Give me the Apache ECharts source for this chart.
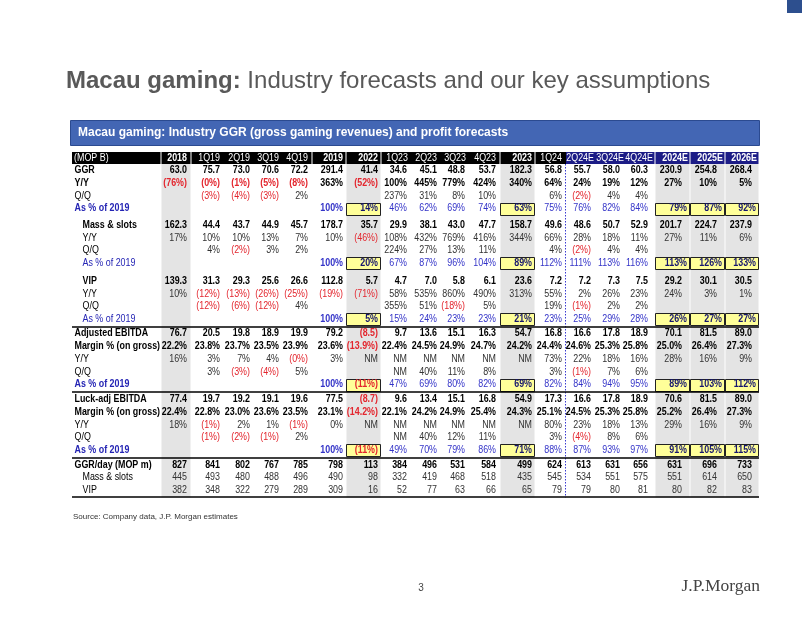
<!DOCTYPE html>
<html>
<head>
<meta charset="utf-8">
<script src="https://cdn.jsdelivr.net/npm/echarts@6/dist/echarts.min.js"></script>
<style>
html,body{margin:0;padding:0;background:#ffffff;}
#chart{width:802px;height:620px;}
</style>
</head>
<body>
<div id="chart"></div>
<script>
// ---------------- data ----------------
const pageTitleBold = "Macau gaming:";
const pageTitleRest = " Industry forecasts and our key assumptions";
const tableTitle = "Macau gaming: Industry GGR (gross gaming revenues) and profit forecasts";
const unitLabel = "(MOP B)";
const sourceNote = "Source: Company data, J.P. Morgan estimates";
const pageNumber = "3";
const brand = "J.P.Morgan";

const columns = ["2018","1Q19","2Q19","3Q19","4Q19","2019","2022","1Q23","2Q23","3Q23","4Q23","2023","1Q24","2Q24E","3Q24E","4Q24E","2024E","2025E","2026E"];
const annualColumns = ["2018","2019","2022","2023","2024E","2025E","2026E"];
const shadedColumns = ["2018","2022","2023","2024E","2025E","2026E"];
const boxedColumns = ["2022","2023","2024E","2025E","2026E"];
const forecastColumns = ["2Q24E","3Q24E","4Q24E","2024E","2025E","2026E"];

const ggr        = ["63.0","75.7","73.0","70.6","72.2","291.4","41.4","34.6","45.1","48.8","53.7","182.3","56.8","55.7","58.0","60.3","230.9","254.8","268.4"];
const ggrYoY     = ["(76%)","(0%)","(1%)","(5%)","(8%)","363%","(52%)","100%","445%","779%","424%","340%","64%","24%","19%","12%","27%","10%","5%"];
const ggrQoQ     = ["","(3%)","(4%)","(3%)","2%","","","237%","31%","8%","10%","","6%","(2%)","4%","4%","","",""];
const ggrVs2019  = ["","","","","","100%","14%","46%","62%","69%","74%","63%","75%","76%","82%","84%","79%","87%","92%"];

const mass       = ["162.3","44.4","43.7","44.9","45.7","178.7","35.7","29.9","38.1","43.0","47.7","158.7","49.6","48.6","50.7","52.9","201.7","224.7","237.9"];
const massYoY    = ["17%","10%","10%","13%","7%","10%","(46%)","108%","432%","769%","416%","344%","66%","28%","18%","11%","27%","11%","6%"];
const massQoQ    = ["","4%","(2%)","3%","2%","","","224%","27%","13%","11%","","4%","(2%)","4%","4%","","",""];
const massVs2019 = ["","","","","","100%","20%","67%","87%","96%","104%","89%","112%","111%","113%","116%","113%","126%","133%"];

const vip        = ["139.3","31.3","29.3","25.6","26.6","112.8","5.7","4.7","7.0","5.8","6.1","23.6","7.2","7.2","7.3","7.5","29.2","30.1","30.5"];
const vipYoY     = ["10%","(12%)","(13%)","(26%)","(25%)","(19%)","(71%)","58%","535%","860%","490%","313%","55%","2%","26%","23%","24%","3%","1%"];
const vipQoQ     = ["","(12%)","(6%)","(12%)","4%","","","355%","51%","(18%)","5%","","19%","(1%)","2%","2%","","",""];
const vipVs2019  = ["","","","","","100%","5%","15%","24%","23%","23%","21%","23%","25%","29%","28%","26%","27%","27%"];

const ebitda       = ["76.7","20.5","19.8","18.9","19.9","79.2","(8.5)","9.7","13.6","15.1","16.3","54.7","16.8","16.6","17.8","18.9","70.1","81.5","89.0"];
const ebitdaMargin = ["22.2%","23.8%","23.7%","23.5%","23.9%","23.6%","(13.9%)","22.4%","24.5%","24.9%","24.7%","24.2%","24.4%","24.6%","25.3%","25.8%","25.0%","26.4%","27.3%"];
const ebitdaYoY    = ["16%","3%","7%","4%","(0%)","3%","NM","NM","NM","NM","NM","NM","73%","22%","18%","16%","28%","16%","9%"];
const ebitdaQoQ    = ["","3%","(3%)","(4%)","5%","","","NM","40%","11%","8%","","3%","(1%)","7%","6%","","",""];
const ebitdaVs2019 = ["","","","","","100%","(11%)","47%","69%","80%","82%","69%","82%","84%","94%","95%","89%","103%","112%"];

const luck       = ["77.4","19.7","19.2","19.1","19.6","77.5","(8.7)","9.6","13.4","15.1","16.8","54.9","17.3","16.6","17.8","18.9","70.6","81.5","89.0"];
const luckMargin = ["22.4%","22.8%","23.0%","23.6%","23.5%","23.1%","(14.2%)","22.1%","24.2%","24.9%","25.4%","24.3%","25.1%","24.5%","25.3%","25.8%","25.2%","26.4%","27.3%"];
const luckYoY    = ["18%","(1%)","2%","1%","(1%)","0%","NM","NM","NM","NM","NM","NM","80%","23%","18%","13%","29%","16%","9%"];
const luckQoQ    = ["","(1%)","(2%)","(1%)","2%","","","NM","40%","12%","11%","","3%","(4%)","8%","6%","","",""];
const luckVs2019 = ["","","","","","100%","(11%)","49%","70%","79%","86%","71%","88%","87%","93%","97%","91%","105%","115%"];

const ggrDay     = ["827","841","802","767","785","798","113","384","496","531","584","499","624","613","631","656","631","696","733"];
const ggrDayMass = ["445","493","480","488","496","490","98","332","419","468","518","435","545","534","551","575","551","614","650"];
const ggrDayVip  = ["382","348","322","279","289","309","16","52","77","63","66","65","79","79","80","81","80","82","83"];

// rows: label text + which array + row style
const rows = [
  {label:"GGR", vals:ggr, kind:"bold"},
  {label:"Y/Y", vals:ggrYoY, kind:"bold"},
  {label:"Q/Q", vals:ggrQoQ, kind:"normal"},
  {label:"As % of 2019", vals:ggrVs2019, kind:"pct", labelBold:true},
  {label:"Mass & slots", vals:mass, kind:"bold", indent:true},
  {label:"Y/Y", vals:massYoY, kind:"normal", indent:true},
  {label:"Q/Q", vals:massQoQ, kind:"normal", indent:true},
  {label:"As % of 2019", vals:massVs2019, kind:"pct", indent:true},
  {label:"VIP", vals:vip, kind:"bold", indent:true},
  {label:"Y/Y", vals:vipYoY, kind:"normal", indent:true},
  {label:"Q/Q", vals:vipQoQ, kind:"normal", indent:true},
  {label:"As % of 2019", vals:vipVs2019, kind:"pct", indent:true},
  {label:"Adjusted EBITDA", vals:ebitda, kind:"bold"},
  {label:"Margin % (on gross)", vals:ebitdaMargin, kind:"bold"},
  {label:"Y/Y", vals:ebitdaYoY, kind:"normal"},
  {label:"Q/Q", vals:ebitdaQoQ, kind:"normal"},
  {label:"As % of 2019", vals:ebitdaVs2019, kind:"pct", labelBold:true},
  {label:"Luck-adj EBITDA", vals:luck, kind:"bold"},
  {label:"Margin % (on gross)", vals:luckMargin, kind:"bold"},
  {label:"Y/Y", vals:luckYoY, kind:"normal"},
  {label:"Q/Q", vals:luckQoQ, kind:"normal"},
  {label:"As % of 2019", vals:luckVs2019, kind:"pct", labelBold:true},
  {label:"GGR/day (MOP m)", vals:ggrDay, kind:"bold"},
  {label:"Mass & slots", vals:ggrDayMass, kind:"normal", indent:true},
  {label:"VIP", vals:ggrDayVip, kind:"normal", indent:true}
];

// ---------------- layout / style ----------------
const FONT = "'Liberation Sans', Arial, sans-serif";
const FS = 10, SX = 0.89;
const LABEL_W = 89;
const COL_W   = [30,33,30,29,29,34,35,31,29,29,30,35,31,30,30,29,35,35,34];
const COL_PAD = [4,4,4,4,4,3,3,5,4,5,4,3,4,5,6,7,8,8,7];
const HEAD_TOP = 6, HEAD_BOT = 18;
const ROW_Y0 = 24.3, ROW_STEP = 12.75;
const GAP_BEFORE = {4:3.8, 8:5, 12:1.6, 17:1.9, 22:1.8};
const RULE_BEFORE = [12, 17, 22];
const C = {
  black:'#000000', normal:'#333333', red:'#e3262e', blue:'#3434c8', blueLabel:'#2424b4',
  boxText:'#16166e', boxFill:'#ffff99', grey:'#e4e4e4', headBlack:'#000000', headNavy:'#1c1c86',
  bar:'#4366b4', pageTitle:'#595959'
};

const colLeft = [];
let acc = LABEL_W;
COL_W.forEach(w => { colLeft.push(acc); acc += w; });
const TABLE_W = acc;
const rowY = [];
let yy = ROW_Y0;
rows.forEach((row, r) => { if (r > 0) yy += ROW_STEP; if (GAP_BEFORE[r]) yy += GAP_BEFORE[r]; rowY.push(yy); });
const TABLE_BOT = rowY[rowY.length - 1] + 7;
const GRID_TOP = 146, GRID_H = 360;

function txt(pt, text, o) {
  const align = o.align || 'right';
  return {
    type:'text', x: pt[0], y: pt[1], scaleX: o.sx == null ? SX : o.sx, silent:true,
    style:{
      text: text, x:0, y:0, fill:o.color,
      fontSize:o.size || FS, fontWeight:o.bold ? 'bold' : 'normal', fontFamily:o.family || FONT,
      align: align, verticalAlign:'middle', textAlign: align, textVerticalAlign:'middle'
    }
  };
}

// ---------------- series ----------------
const columnSeries = {
  type:'custom', z:1, silent:true,
  data: columns.map((c, i) => [i, 0]),
  renderItem: function (params, api) {
    const c = api.value(0);
    const name = columns[c];
    const l = colLeft[c], r = colLeft[c] + COL_W[c];
    const children = [];
    if (shadedColumns.indexOf(name) >= 0) {
      const a = api.coord([l, HEAD_BOT]), b = api.coord([r, TABLE_BOT]);
      children.push({type:'rect', shape:{x:a[0] + 0.5, y:a[1], width:b[0] - a[0] - 1, height:b[1] - a[1]}, style:{fill:C.grey}});
    }
    const isAnnual = annualColumns.indexOf(name) >= 0;
    const leftGap = isAnnual || c === 0 || annualColumns.indexOf(columns[c - 1]) >= 0;
    const rightGap = isAnnual || annualColumns.indexOf(columns[c + 1]) >= 0;
    const h0 = api.coord([l, HEAD_TOP]), h1 = api.coord([r, HEAD_BOT]);
    const x0 = h0[0] + (leftGap ? 0.5 : 0), x1 = h1[0] - (rightGap ? 0.5 : 0);
    const isF = forecastColumns.indexOf(name) >= 0;
    children.push({type:'rect', shape:{x:x0, y:h0[1], width:x1 - x0, height:h1[1] - h0[1]}, style:{fill: isF ? C.headNavy : C.headBlack}});
    const tp = api.coord([r - (isF ? 2 : Math.min(COL_PAD[c], 4)), (HEAD_TOP + HEAD_BOT) / 2]);
    children.push(txt(tp, name, {color:'#ffffff', bold:isAnnual}));
    return {type:'group', children: children};
  }
};

const labelSeries = {
  type:'custom', z:3, silent:true,
  data: [[0, -1]].concat(rows.map((row, i) => [0, i])),
  renderItem: function (params, api) {
    const r = api.value(1);
    if (r < 0) {
      const h0 = api.coord([0, HEAD_TOP]), h1 = api.coord([LABEL_W, HEAD_BOT]);
      return {type:'group', children:[
        {type:'rect', shape:{x:h0[0], y:h0[1], width:h1[0] - h0[0] - 0.5, height:h1[1] - h0[1]}, style:{fill:C.headBlack}},
        txt(api.coord([2, (HEAD_TOP + HEAD_BOT) / 2]), unitLabel, {color:'#ffffff', align:'left'})
      ]};
    }
    const row = rows[r];
    const isPct = row.kind === 'pct';
    return txt(api.coord([row.indent ? 10.5 : 2.5, rowY[r]]), row.label, {
      align:'left',
      color: isPct ? C.blueLabel : C.black,
      bold: row.kind === 'bold' || (isPct && row.labelBold)
    });
  }
};

const cellData = [];
rows.forEach((row, r) => row.vals.forEach((v, c) => { if (v !== "") cellData.push([c, r]); }));

const cellSeries = {
  type:'custom', z:3, silent:true,
  data: cellData,
  renderItem: function (params, api) {
    const c = api.value(0), r = api.value(1);
    const row = rows[r], s = row.vals[c], name = columns[c];
    const neg = s.charAt(0) === '(';
    const isPct = row.kind === 'pct';
    const right = colLeft[c] + COL_W[c];
    if (isPct && boxedColumns.indexOf(name) >= 0) {
      const a = api.coord([colLeft[c], rowY[r]]), b = api.coord([right, rowY[r]]);
      const top = Math.round(a[1] - 6) + 0.5;
      return {type:'group', children:[
        {type:'rect', shape:{x:Math.round(a[0]) + 0.5, y:top, width:Math.round(b[0] - a[0]) - 1, height:12},
         style:{fill:C.boxFill, stroke:'#222222', lineWidth:1}},
        txt(api.coord([right - 3, rowY[r]]), s, {color: neg ? C.red : C.boxText, bold:true})
      ]};
    }
    let color, bold;
    if (isPct) { color = neg ? C.red : C.blue; bold = name === '2019'; }
    else { bold = row.kind === 'bold'; color = neg ? C.red : (bold ? C.black : C.normal); }
    return txt(api.coord([right - COL_PAD[c], rowY[r]]), s, {color:color, bold:bold});
  }
};

const ruleSeries = {
  type:'custom', z:4, silent:true,
  data: RULE_BEFORE.map(r => [0, r]).concat([[0, rows.length]]),
  renderItem: function (params, api) {
    const r = api.value(1);
    const yv = r < rows.length ? (rowY[r - 1] + rowY[r]) / 2 : TABLE_BOT;
    const a = api.coord([0, yv]), b = api.coord([TABLE_W, yv]);
    const y = Math.round(a[1]);
    return {type:'line', shape:{x1:a[0], y1:y, x2:b[0], y2:y}, style:{stroke:'#000000', lineWidth:1.6}};
  }
};

const dividerSeries = {
  type:'custom', z:2, silent:true,
  data: [[columns.indexOf(forecastColumns[0]), 0]],
  renderItem: function (params, api) {
    const c = api.value(0);
    const a = api.coord([colLeft[c], HEAD_BOT]), b = api.coord([colLeft[c], TABLE_BOT]);
    const x = Math.round(a[0]) - 0.5;
    return {type:'line', shape:{x1:x, y1:a[1], x2:x, y2:b[1]}, style:{stroke:'#3a3ad0', lineWidth:1, lineDash:[1.5, 1.5]}};
  }
};

const chart = echarts.init(document.getElementById('chart'), null, {renderer:'canvas', width:802, height:620});
chart.setOption({
  animation:false,
  backgroundColor:'#ffffff',
  title:{
    text:'{b|' + pageTitleBold + '}' + pageTitleRest,
    left:61, top:64,
    textStyle:{fontSize:24, fontWeight:'normal', color:C.pageTitle, fontFamily:FONT,
      rich:{b:{fontSize:24, fontWeight:'bold', color:C.pageTitle, fontFamily:FONT}}}
  },
  tooltip:{show:false},
  grid:{left:72, top:GRID_TOP, width:TABLE_W, height:GRID_H},
  xAxis:{type:'value', min:0, max:TABLE_W, show:false},
  yAxis:{type:'value', min:0, max:GRID_H, inverse:true, show:false},
  graphic:[
    {type:'rect', shape:{x:787, y:0, width:15, height:13}, style:{fill:'#2d4f8e'}, silent:true},
    {type:'rect', shape:{x:70.5, y:120.5, width:689, height:25}, style:{fill:C.bar, stroke:'#2b4a90', lineWidth:1}, silent:true},
    {type:'text', x:78, y:133, silent:true, style:{text:tableTitle, fill:'#ffffff', fontSize:12, fontWeight:'bold', fontFamily:FONT,
      align:'left', verticalAlign:'middle', textAlign:'left', textVerticalAlign:'middle'}},
    {type:'text', x:73, y:517, silent:true, style:{text:sourceNote, fill:'#333333', fontSize:8, fontFamily:FONT,
      align:'left', verticalAlign:'middle', textAlign:'left', textVerticalAlign:'middle'}},
    {type:'text', x:421, y:588, silent:true, style:{text:pageNumber, fill:'#444444', fontSize:10, fontFamily:FONT,
      align:'center', verticalAlign:'middle', textAlign:'center', textVerticalAlign:'middle'}},
    {type:'text', x:760, y:586, silent:true, style:{text:brand, fill:'#444444', fontSize:17.5, fontFamily:"'Liberation Serif', 'DejaVu Serif', serif",
      align:'right', verticalAlign:'middle', textAlign:'right', textVerticalAlign:'middle'}}
  ],
  series:[columnSeries, dividerSeries, labelSeries, cellSeries, ruleSeries]
});
</script>
</body>
</html>
